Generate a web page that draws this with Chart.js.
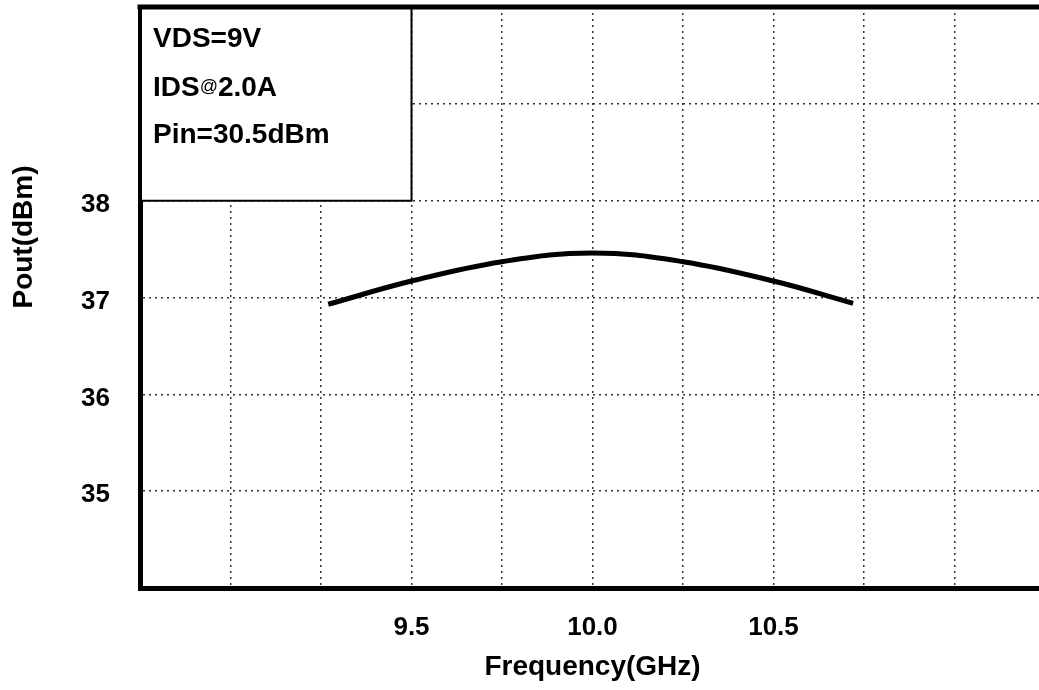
<!DOCTYPE html>
<html>
<head>
<meta charset="utf-8">
<script src="https://cdn.jsdelivr.net/npm/chart.js@4"></script>
<style>
    html, body { margin: 0; padding: 0; background: #fff; overflow: hidden; }
    #wrap { width: 1046px; height: 690px; }
</style>
</head>
<body>
<div id="wrap"><canvas id="pout-chart" width="1046" height="690"></canvas></div>
<script>
// Данные кривой Pout(f)
const freq = [9.27, 9.5, 9.75, 10.0, 10.25, 10.5, 10.72];
const pout = [36.93, 37.17, 37.37, 37.46, 37.37, 37.17, 36.94];

// Подписи осей
const xLabels = [9.5, 10.0, 10.5];
const yLabels = [35, 36, 37, 38];

// Текст в рамке условий
const condLines = ['VDS=9V', 'IDS@2.0A', 'Pin=30.5dBm'];

const FONT = '"Liberation Sans", Arial, sans-serif';

// Убираем автоматические отступы шкалы под подписи
function noPad(s) {
    s.paddingTop = 0;
    s.paddingBottom = 0;
    s.paddingLeft = 0;
    s.paddingRight = 0;
}

// Рамка с условиями, верхняя граница и подпись оси Y
const framePlugin = {
    id: 'frame',
    afterDraw(chart) {
        const ctx = chart.ctx;
        const area = chart.chartArea;
        const x = chart.scales.x;
        const y = chart.scales.y;
        const boxR = x.getPixelForValue(9.5);
        const boxB = y.getPixelForValue(38);

        ctx.save();
        // белая подложка
        ctx.fillStyle = '#fff';
        ctx.fillRect(area.left + 2, area.top, boxR - area.left - 2, boxB - area.top);
        ctx.strokeStyle = '#000';
        ctx.lineWidth = 2;
        ctx.beginPath();
        ctx.moveTo(boxR, area.top);
        ctx.lineTo(boxR, boxB);
        ctx.lineTo(area.left, boxB);
        ctx.stroke();

        // верхняя граница
        ctx.lineWidth = 5;
        ctx.beginPath();
        ctx.moveTo(area.left - 2.5, area.top);
        ctx.lineTo(area.right, area.top);
        ctx.stroke();

        // текст условий
        ctx.fillStyle = '#000';
        ctx.textBaseline = 'alphabetic';
        ctx.textAlign = 'left';
        const tx = 153;
        ctx.font = 'bold 28px ' + FONT;
        ctx.fillText(condLines[0], tx, 47);

        // IDS@2.0A: символ @ мельче
        const parts = condLines[1].split('@');
        ctx.font = 'bold 28px ' + FONT;
        ctx.fillText(parts[0], tx, 96);
        let cx = tx + ctx.measureText(parts[0]).width;
        ctx.font = '18px ' + FONT;
        ctx.fillText('@', cx, 92);
        cx += ctx.measureText('@').width;
        ctx.font = 'bold 28px ' + FONT;
        ctx.fillText(parts[1], cx, 96);

        ctx.fillText(condLines[2], tx, 143);

        // подпись оси Y
        ctx.translate(32, 237);
        ctx.rotate(-Math.PI / 2);
        ctx.textAlign = 'center';
        ctx.font = 'bold 28px ' + FONT;
        ctx.fillText('Pout(dBm)', 0, 0);
        ctx.restore();
    }
};

const ctx = document.getElementById('pout-chart').getContext('2d');
const chart = new Chart(ctx, {
    type: 'line',
    data: {
        datasets: [
            {
                label: 'Pout',
                data: freq.map((f, i) => ({ x: f, y: pout[i] })),
                borderColor: '#000',
                borderWidth: 5,
                borderCapStyle: 'butt',
                pointRadius: 0,
                tension: 0.4,
                fill: false
            }
        ]
    },
    options: {
        responsive: false,
        animation: false,
        layout: { autoPadding: false, padding: { top: 7, right: 1, left: 0, bottom: 0 } },
        plugins: {
            legend: { display: false },
            tooltip: { enabled: false }
        },
        scales: {
            x: {
                type: 'linear',
                min: 8.75,
                max: 11.25,
                afterFit: s => { s.height = 102; noPad(s); },
                ticks: {
                    stepSize: 0.25,
                    padding: 24,
                    color: '#000',
                    font: { family: FONT, size: 26, weight: 'bold' },
                    maxRotation: 0,
                    autoSkip: false,
                    callback: v => xLabels.some(l => Math.abs(l - v) < 1e-6) ? v.toFixed(1) : ''
                },
                grid: { color: '#333', lineWidth: 1.5, drawTicks: false },
                border: { color: '#000', width: 5, dash: [2, 4] },
                title: {
                    display: true,
                    text: 'Frequency(GHz)',
                    color: '#000',
                    font: { family: FONT, size: 28, weight: 'bold' },
                    padding: { top: 0, bottom: 6 }
                }
            },
            y: {
                type: 'linear',
                min: 34,
                max: 40,
                afterFit: s => { s.width = 140; noPad(s); },
                ticks: {
                    stepSize: 1,
                    padding: 30,
                    labelOffset: 4,
                    color: '#000',
                    font: { family: FONT, size: 26, weight: 'bold' },
                    callback: v => yLabels.includes(v) ? String(v) : ''
                },
                grid: { color: '#333', lineWidth: 1.5, drawTicks: false },
                border: { color: '#000', width: 5, dash: [2, 4] }
            }
        }
    },
    plugins: [framePlugin]
});
</script>
</body>
</html>
